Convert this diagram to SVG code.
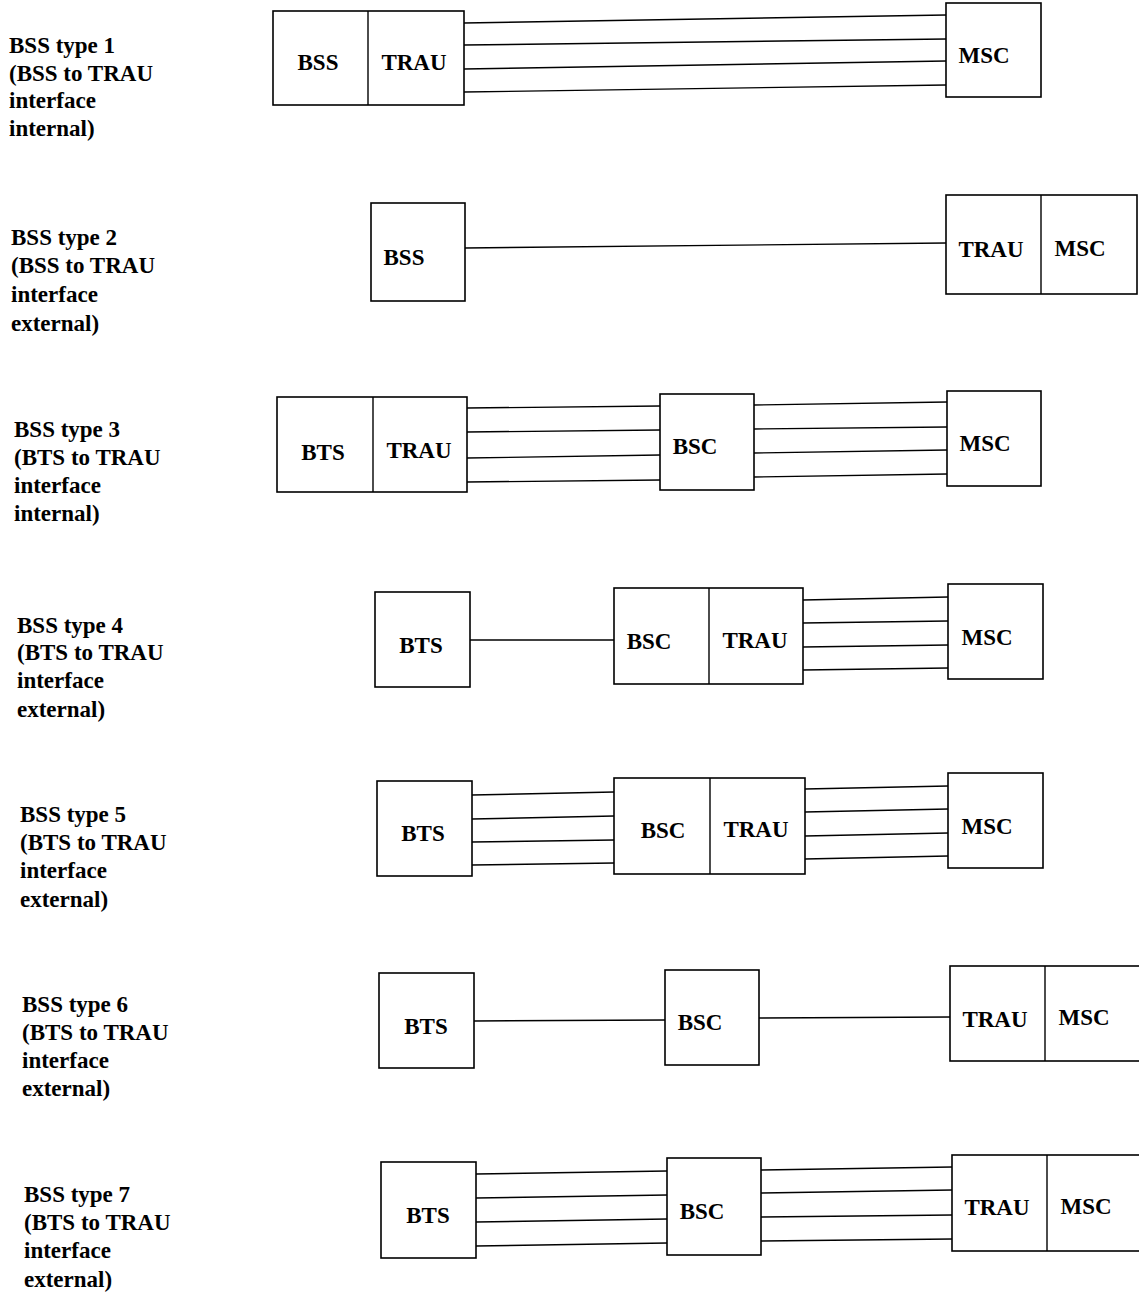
<svg xmlns="http://www.w3.org/2000/svg" width="1139" height="1297" viewBox="0 0 1139 1297">
<style>
text{font-family:"Liberation Serif","Times New Roman",serif;font-weight:bold;font-size:23px;fill:#000}
.n{text-anchor:middle}
.b{fill:#fff;stroke:#000;stroke-width:1.6}
.d{stroke:#000;stroke-width:1.4}
.c line{stroke:#000;stroke-width:1.4}
</style>
<rect width="1139" height="1297" fill="#fff"/>
<g id="labels">
<text x="9" y="53">BSS type 1<tspan x="9" y="81">(BSS to TRAU</tspan><tspan x="9" y="108">interface</tspan><tspan x="9" y="136">internal)</tspan></text>
<text x="11" y="245">BSS type 2<tspan x="11" y="273">(BSS to TRAU</tspan><tspan x="11" y="302">interface</tspan><tspan x="11" y="331">external)</tspan></text>
<text x="14" y="437">BSS type 3<tspan x="14" y="465">(BTS to TRAU</tspan><tspan x="14" y="493">interface</tspan><tspan x="14" y="521">internal)</tspan></text>
<text x="17" y="633">BSS type 4<tspan x="17" y="660">(BTS to TRAU</tspan><tspan x="17" y="688">interface</tspan><tspan x="17" y="717">external)</tspan></text>
<text x="20" y="822">BSS type 5<tspan x="20" y="850">(BTS to TRAU</tspan><tspan x="20" y="878">interface</tspan><tspan x="20" y="907">external)</tspan></text>
<text x="22" y="1012">BSS type 6<tspan x="22" y="1040">(BTS to TRAU</tspan><tspan x="22" y="1068">interface</tspan><tspan x="22" y="1096">external)</tspan></text>
<text x="24" y="1202">BSS type 7<tspan x="24" y="1230">(BTS to TRAU</tspan><tspan x="24" y="1258">interface</tspan><tspan x="24" y="1287">external)</tspan></text>
</g>
<g id="connectors" class="c">
<line x1="464" y1="23" x2="946" y2="15"/><line x1="464" y1="45" x2="946" y2="39"/><line x1="464" y1="69" x2="946" y2="61"/><line x1="464" y1="92" x2="946" y2="85"/>
<line x1="465" y1="248" x2="946" y2="243"/>
<line x1="467" y1="408" x2="660" y2="406"/><line x1="467" y1="432" x2="660" y2="430"/><line x1="467" y1="458" x2="660" y2="455"/><line x1="467" y1="482" x2="660" y2="480"/>
<line x1="754" y1="405" x2="947" y2="402"/><line x1="754" y1="429" x2="947" y2="427"/><line x1="754" y1="453" x2="947" y2="450"/><line x1="754" y1="477" x2="947" y2="474"/>
<line x1="470" y1="640" x2="614" y2="640"/>
<line x1="803" y1="600" x2="948" y2="597"/><line x1="803" y1="623" x2="948" y2="621"/><line x1="803" y1="647" x2="948" y2="645"/><line x1="803" y1="670" x2="948" y2="668"/>
<line x1="472" y1="795" x2="614" y2="792"/><line x1="472" y1="819" x2="614" y2="816"/><line x1="472" y1="842" x2="614" y2="840"/><line x1="472" y1="865" x2="614" y2="863"/>
<line x1="805" y1="789" x2="948" y2="786"/><line x1="805" y1="812" x2="948" y2="809"/><line x1="805" y1="836" x2="948" y2="833"/><line x1="805" y1="859" x2="948" y2="856"/>
<line x1="474" y1="1021" x2="665" y2="1020"/>
<line x1="759" y1="1018" x2="950" y2="1017"/>
<line x1="476" y1="1174" x2="667" y2="1171"/><line x1="476" y1="1198" x2="667" y2="1195"/><line x1="476" y1="1222" x2="667" y2="1219"/><line x1="476" y1="1246" x2="667" y2="1243"/>
<line x1="761" y1="1170" x2="952" y2="1167"/><line x1="761" y1="1193" x2="952" y2="1190"/><line x1="761" y1="1217" x2="952" y2="1215"/><line x1="761" y1="1241" x2="952" y2="1239"/>
</g>
<g id="r1-bss-trau"><rect class="b" x="273" y="11" width="191" height="94"/><line class="d" x1="368" y1="11" x2="368" y2="105"/><text class="n" x="318" y="70">BSS</text><text class="n" x="414" y="70">TRAU</text></g>
<g id="r1-msc"><rect class="b" x="946" y="3" width="95" height="94"/><text class="n" x="984" y="63">MSC</text></g>
<g id="r2-bss"><rect class="b" x="371" y="203" width="94" height="98"/><text class="n" x="404" y="265">BSS</text></g>
<g id="r2-trau-msc"><rect class="b" x="946" y="195" width="191" height="99"/><line class="d" x1="1041" y1="195" x2="1041" y2="294"/><text class="n" x="991" y="257">TRAU</text><text class="n" x="1080" y="256">MSC</text></g>
<g id="r3-bts-trau"><rect class="b" x="277" y="397" width="190" height="95"/><line class="d" x1="373" y1="397" x2="373" y2="492"/><text class="n" x="323" y="460">BTS</text><text class="n" x="419" y="458">TRAU</text></g>
<g id="r3-bsc"><rect class="b" x="660" y="394" width="94" height="96"/><text class="n" x="695" y="454">BSC</text></g>
<g id="r3-msc"><rect class="b" x="947" y="391" width="94" height="95"/><text class="n" x="985" y="451">MSC</text></g>
<g id="r4-bts"><rect class="b" x="375" y="592" width="95" height="95"/><text class="n" x="421" y="653">BTS</text></g>
<g id="r4-bsc-trau"><rect class="b" x="614" y="588" width="189" height="96"/><line class="d" x1="709" y1="588" x2="709" y2="684"/><text class="n" x="649" y="649">BSC</text><text class="n" x="755" y="648">TRAU</text></g>
<g id="r4-msc"><rect class="b" x="948" y="584" width="95" height="95"/><text class="n" x="987" y="645">MSC</text></g>
<g id="r5-bts"><rect class="b" x="377" y="781" width="95" height="95"/><text class="n" x="423" y="841">BTS</text></g>
<g id="r5-bsc-trau"><rect class="b" x="614" y="778" width="191" height="96"/><line class="d" x1="710" y1="778" x2="710" y2="874"/><text class="n" x="663" y="838">BSC</text><text class="n" x="756" y="837">TRAU</text></g>
<g id="r5-msc"><rect class="b" x="948" y="773" width="95" height="95"/><text class="n" x="987" y="834">MSC</text></g>
<g id="r6-bts"><rect class="b" x="379" y="973" width="95" height="95"/><text class="n" x="426" y="1034">BTS</text></g>
<g id="r6-bsc"><rect class="b" x="665" y="970" width="94" height="95"/><text class="n" x="700" y="1030">BSC</text></g>
<g id="r6-trau-msc"><rect class="b" x="950" y="966" width="191" height="95"/><line class="d" x1="1045" y1="966" x2="1045" y2="1061"/><text class="n" x="995" y="1027">TRAU</text><text class="n" x="1084" y="1025">MSC</text></g>
<g id="r7-bts"><rect class="b" x="381" y="1162" width="95" height="96"/><text class="n" x="428" y="1223">BTS</text></g>
<g id="r7-bsc"><rect class="b" x="667" y="1158" width="94" height="97"/><text class="n" x="702" y="1219">BSC</text></g>
<g id="r7-trau-msc"><rect class="b" x="952" y="1155" width="191" height="96"/><line class="d" x1="1047" y1="1155" x2="1047" y2="1251"/><text class="n" x="997" y="1215">TRAU</text><text class="n" x="1086" y="1214">MSC</text></g>
</svg>
